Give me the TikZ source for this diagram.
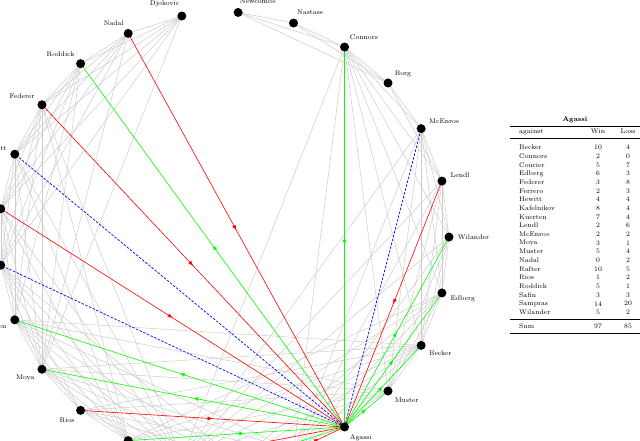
\documentclass[tikz,border=0pt]{standalone}
\usetikzlibrary{arrows.meta,decorations.markings}
\begin{document}
\begin{tikzpicture}[x=1pt,y=1pt,
  dot/.style={circle,fill=black,inner sep=0pt,minimum size=9pt},
  lbl/.style={font=\fontsize{6.8}{7}\selectfont,inner sep=1pt},
  grayedge/.style={draw=black!20,line width=0.5pt},
  marrow/.style={postaction={decorate},decoration={markings,mark=at position 0.5 with {\arrow{Latex[length=5pt,width=4pt]}}}},
  greenedge/.style={draw={rgb,1:red,0;green,1;blue,0},line width=0.6pt,marrow},
  rededge/.style={draw=red,line width=0.6pt,marrow},
  blueedge/.style={draw=blue,line width=0.7pt,dashed,dash pattern=on 2.5pt off 1.5pt},
  tab/.style={font=\fontsize{6.8}{7}\selectfont,inner sep=0pt}]
\useasboundingbox (0,0) rectangle (640,-440);
\clip (0,0) rectangle (640,-440);
\foreach \nm [count=\c from 0] in {Wilander,Lendl,McEnroe,Borg,Connors,Nastase,Newcombe,Djokovic,Nadal,Roddick,Federer,Hewitt,Ferrero,Safin,Kuerten,Moya,Rios,Kafelnikov,Sampras,Rafter,Courier,Agassi,Muster,Becker,Edberg}{
  \pgfmathsetmacro\ang{\c*14.4}
  \coordinate (n\c) at ([shift={(224pt,-237pt)}]\ang:225pt);
}
\def\S{{1981,1978,1978,1973,1972,1969,1965,2004,2002,2000,1998,1998,1998,1997,1995,1995,1993,1992,1988,1991,1988,1986,1985,1984,1983}}
\def\E{{1992,1994,1992,1983,1992,1980,1978,2015,2015,2012,2015,2012,2010,2009,2004,2008,2001,2003,2002,2001,2000,2006,1999,1999,1996}}
\foreach \i in {0,...,23}{
  \pgfmathtruncatemacro\js{\i+1}
  \foreach \j in {\js,...,24}{
    \pgfmathtruncatemacro\ov{min(\E[\i],\E[\j])-max(\S[\i],\S[\j])}
    \pgfmathtruncatemacro\ag{or(\i==21,\j==21)}
    \ifnum\ag=0 \ifnum\ov>3 \draw[grayedge] (n\i) -- (n\j);\fi\fi
  }}
\foreach \k in {9,14,15,4,0,24,23,22,17,19} \draw[greenedge] (n21) -- (n\k);
\foreach \k in {8,10,12,16,1,18,20} \draw[rededge] (n\k) -- (n21);
\foreach \k in {11,13,2} \draw[blueedge] (n21) -- (n\k);
\foreach \nm [count=\c from 0] in {Wilander,Lendl,McEnroe,Borg,Connors,Nastase,Newcombe,Djokovic,Nadal,Roddick,Federer,Hewitt,Ferrero,Safin,Kuerten,Moya,Rios,Kafelnikov,Sampras,Rafter,Courier,Agassi,Muster,Becker,Edberg}{
  \pgfmathsetmacro\ang{\c*14.4}
  \node[dot,label={[lbl,label distance=3pt]\ang:\nm}] (d\c) at (n\c) {};
}
% table
\node[tab,font=\fontsize{6.8}{7}\selectfont\bfseries] (tt) at (575,-120) {Agassi};
\draw[line width=0.6pt] (510,-126) -- (640,-126);
\node[tab,anchor=west] (ha) at (519,-131.5) {against};
\node[tab] (hw) at (598,-131.5) {Win};
\node[tab] (hl) at (628,-131.5) {Loss};
\draw[line width=0.4pt] (510,-138) -- (640,-138);
\foreach \nm/\w/\l [count=\r from 0] in {Becker/10/4,Connors/2/0,Courier/5/7,Edberg/6/3,Federer/3/8,Ferrero/2/3,Hewitt/4/4,Kafelnikov/8/4,Kuerten/7/4,Lendl/2/6,McEnroe/2/2,Moya/3/1,Muster/5/4,Nadal/0/2,Rafter/10/5,Rios/1/2,Roddick/5/1,Safin/3/3,Sampras/14/20,Wilander/5/2}{
  \pgfmathsetmacro\yy{-147.5-8.68*\r}
  \node[tab,anchor=west] (ra\r) at (519,\yy) {\nm};
  \node[tab] (rw\r) at (598,\yy) {\w};
  \node[tab] (rl\r) at (628,\yy) {\l};
}
\draw[line width=0.4pt] (510,-319) -- (640,-319);
\node[tab,anchor=west] (sa) at (519,-326.5) {Sum};
\node[tab] (sw) at (598,-326.5) {97};
\node[tab] (sl) at (628,-326.5) {85};
\draw[line width=0.6pt] (510,-333) -- (640,-333);
\end{tikzpicture}
\end{document}
